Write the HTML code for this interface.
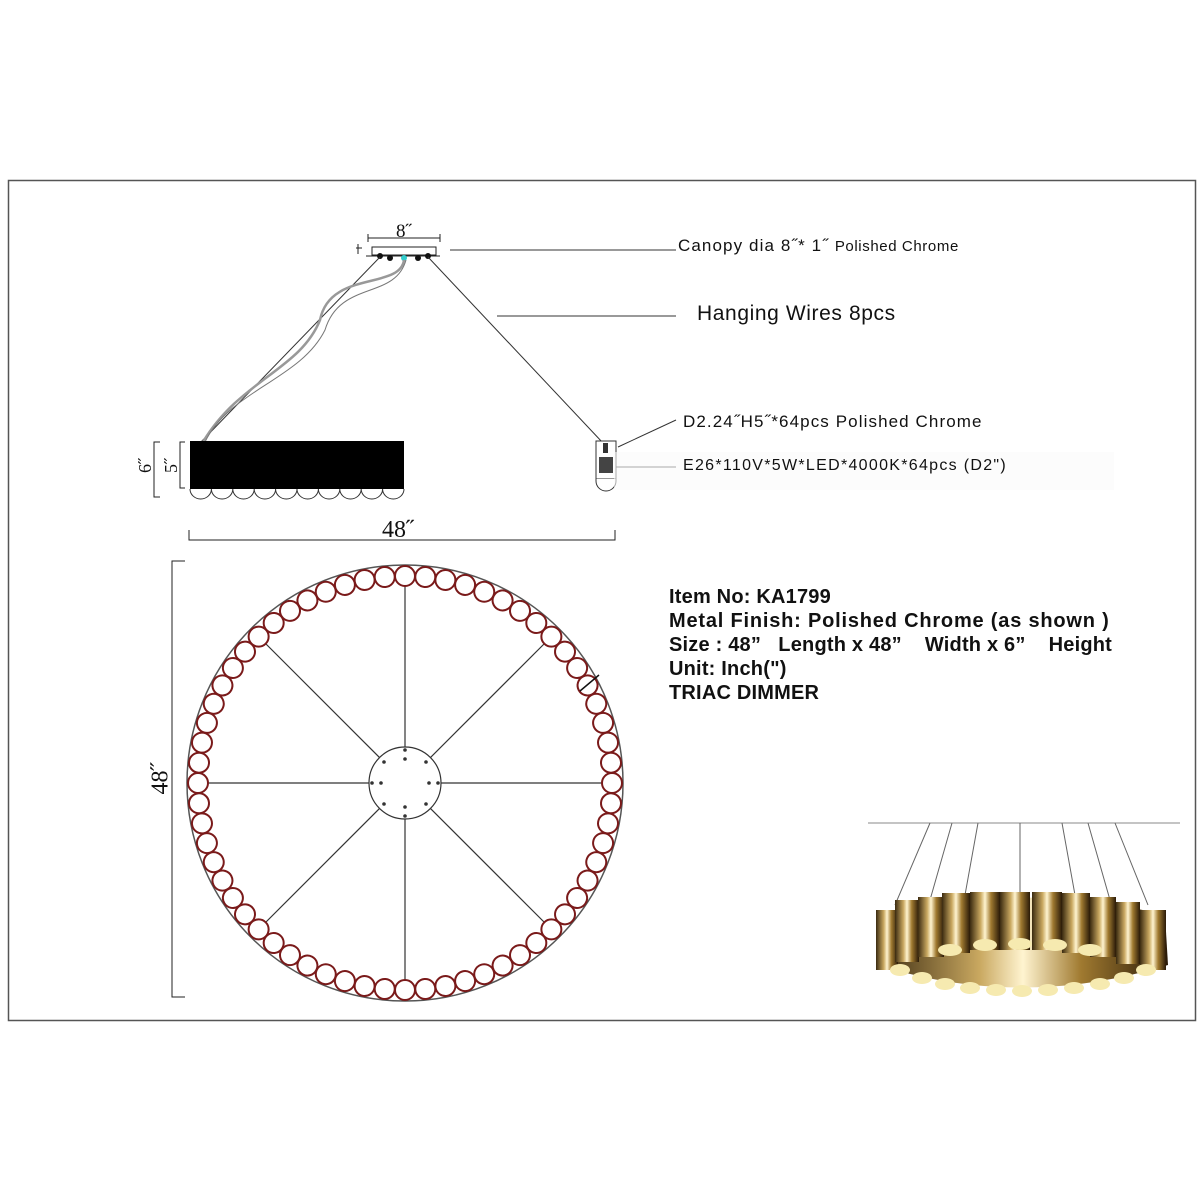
<!DOCTYPE html>
<html><head><meta charset="utf-8"><style>
html,body{margin:0;padding:0;background:#fff;}
body{width:1200px;height:1200px;position:relative;overflow:hidden;font-family:"Liberation Sans",sans-serif;}
.t{position:absolute;white-space:nowrap;color:#111;}
.b{font-weight:bold;font-size:20px;letter-spacing:0.2px;}
</style></head><body>
<svg width="1200" height="1200" style="position:absolute;left:0;top:0">
<defs>
<circle id="c" cx="405" cy="576" r="10" fill="#fff" stroke="#7a1a1a" stroke-width="2"/>
<linearGradient id="g" x1="0" x2="1">
<stop offset="0" stop-color="#3a2a10"/><stop offset="0.35" stop-color="#c9a860"/><stop offset="0.5" stop-color="#fff4d0"/><stop offset="0.7" stop-color="#a07a30"/><stop offset="1" stop-color="#2a1a08"/>
</linearGradient>
</defs>
<rect x="8.5" y="180.5" width="1187" height="840" fill="none" stroke="#555" stroke-width="1.5"/>
<path d="M368 238 H440 M368 234 V242 M440 234 V242" stroke="#222" fill="none"/>
<rect x="372" y="247" width="64" height="8" fill="#fff" stroke="#222"/>
<line x1="366" y1="256" x2="440" y2="256" stroke="#222"/>
<circle cx="380" cy="256" r="3" fill="#111"/><circle cx="390" cy="258" r="3" fill="#111"/><circle cx="418" cy="258" r="3" fill="#111"/><circle cx="428" cy="256" r="3" fill="#111"/>
<circle cx="404" cy="258" r="3" fill="#3cc"/>
<path d="M356 248 h6 M358 244 v10" stroke="#222"/>
<line x1="450" y1="250" x2="676" y2="250" stroke="#333"/>
<line x1="497" y1="316" x2="676" y2="316" stroke="#333"/>
<line x1="380" y1="257" x2="201" y2="442" stroke="#333"/>
<line x1="428" y1="257" x2="603" y2="443" stroke="#333"/>
<path d="M404 260 C400 290 330 270 320 320 C300 370 240 380 203 442" stroke="#999" stroke-width="2.5" fill="none"/>
<path d="M406 260 C395 300 340 280 325 330 C300 380 230 390 205 442" stroke="#777" stroke-width="1" fill="none"/>
<rect x="190" y="441" width="214" height="48" fill="#000"/>
<g fill="#fff" stroke="#333">
<path d="M190 489 a10.7 10 0 0 0 21.4 0 a10.7 10 0 0 0 21.4 0 a10.7 10 0 0 0 21.4 0 a10.7 10 0 0 0 21.4 0 a10.7 10 0 0 0 21.4 0 a10.7 10 0 0 0 21.4 0 a10.7 10 0 0 0 21.4 0 a10.7 10 0 0 0 21.4 0 a10.7 10 0 0 0 21.4 0 a10.7 10 0 0 0 21.4 0"/>
</g>
<path d="M160 442 H154 V497 H160 M185 442 H180 V488 H185" stroke="#222" fill="none"/>
<rect x="596" y="441" width="20" height="38" fill="#fff" stroke="#333"/>
<path d="M596 479 v2 a10 10 0 0 0 20 0 v-2" fill="#fff" stroke="#333"/>
<rect x="599" y="457" width="14" height="16" fill="#444"/>
<rect x="603" y="443" width="5" height="10" fill="#333"/>
<line x1="618" y1="447" x2="676" y2="420" stroke="#333"/>
<line x1="616" y1="467" x2="676" y2="467" stroke="#333"/>
<rect x="614" y="452" width="500" height="38" fill="#fafafa" opacity="0.6"/>
<path d="M189 530 V540 H615 V530" stroke="#222" fill="none"/>
<path d="M185 561 H172 V997 H185" stroke="#222" fill="none"/>
<circle cx="405" cy="783" r="218" fill="#fff" stroke="#555" stroke-width="1.5"/>
<g stroke="#333" stroke-width="1.2">
<line x1="405" y1="575" x2="405" y2="991"/>
<line x1="197" y1="783" x2="613" y2="783"/>
<line x1="258" y1="636" x2="552" y2="930"/>
<line x1="552" y1="636" x2="258" y2="930"/>
</g>
<g>
<use href="#c" transform="rotate(0 405 783)"/><use href="#c" transform="rotate(5.625 405 783)"/><use href="#c" transform="rotate(11.25 405 783)"/><use href="#c" transform="rotate(16.875 405 783)"/><use href="#c" transform="rotate(22.5 405 783)"/><use href="#c" transform="rotate(28.125 405 783)"/><use href="#c" transform="rotate(33.75 405 783)"/><use href="#c" transform="rotate(39.375 405 783)"/><use href="#c" transform="rotate(45 405 783)"/><use href="#c" transform="rotate(50.625 405 783)"/><use href="#c" transform="rotate(56.25 405 783)"/><use href="#c" transform="rotate(61.875 405 783)"/><use href="#c" transform="rotate(67.5 405 783)"/><use href="#c" transform="rotate(73.125 405 783)"/><use href="#c" transform="rotate(78.75 405 783)"/><use href="#c" transform="rotate(84.375 405 783)"/><use href="#c" transform="rotate(90 405 783)"/><use href="#c" transform="rotate(95.625 405 783)"/><use href="#c" transform="rotate(101.25 405 783)"/><use href="#c" transform="rotate(106.875 405 783)"/><use href="#c" transform="rotate(112.5 405 783)"/><use href="#c" transform="rotate(118.125 405 783)"/><use href="#c" transform="rotate(123.75 405 783)"/><use href="#c" transform="rotate(129.375 405 783)"/><use href="#c" transform="rotate(135 405 783)"/><use href="#c" transform="rotate(140.625 405 783)"/><use href="#c" transform="rotate(146.25 405 783)"/><use href="#c" transform="rotate(151.875 405 783)"/><use href="#c" transform="rotate(157.5 405 783)"/><use href="#c" transform="rotate(163.125 405 783)"/><use href="#c" transform="rotate(168.75 405 783)"/><use href="#c" transform="rotate(174.375 405 783)"/><use href="#c" transform="rotate(180 405 783)"/><use href="#c" transform="rotate(185.625 405 783)"/><use href="#c" transform="rotate(191.25 405 783)"/><use href="#c" transform="rotate(196.875 405 783)"/><use href="#c" transform="rotate(202.5 405 783)"/><use href="#c" transform="rotate(208.125 405 783)"/><use href="#c" transform="rotate(213.75 405 783)"/><use href="#c" transform="rotate(219.375 405 783)"/><use href="#c" transform="rotate(225 405 783)"/><use href="#c" transform="rotate(230.625 405 783)"/><use href="#c" transform="rotate(236.25 405 783)"/><use href="#c" transform="rotate(241.875 405 783)"/><use href="#c" transform="rotate(247.5 405 783)"/><use href="#c" transform="rotate(253.125 405 783)"/><use href="#c" transform="rotate(258.75 405 783)"/><use href="#c" transform="rotate(264.375 405 783)"/><use href="#c" transform="rotate(270 405 783)"/><use href="#c" transform="rotate(275.625 405 783)"/><use href="#c" transform="rotate(281.25 405 783)"/><use href="#c" transform="rotate(286.875 405 783)"/><use href="#c" transform="rotate(292.5 405 783)"/><use href="#c" transform="rotate(298.125 405 783)"/><use href="#c" transform="rotate(303.75 405 783)"/><use href="#c" transform="rotate(309.375 405 783)"/><use href="#c" transform="rotate(315 405 783)"/><use href="#c" transform="rotate(320.625 405 783)"/><use href="#c" transform="rotate(326.25 405 783)"/><use href="#c" transform="rotate(331.875 405 783)"/><use href="#c" transform="rotate(337.5 405 783)"/><use href="#c" transform="rotate(343.125 405 783)"/><use href="#c" transform="rotate(348.75 405 783)"/><use href="#c" transform="rotate(354.375 405 783)"/>
</g>
<circle cx="405" cy="783" r="36" fill="#fff" stroke="#333" stroke-width="1.2"/>
<g fill="#333">
<circle cx="405" cy="750" r="1.8"/><circle cx="405" cy="759" r="1.8"/><circle cx="405" cy="807" r="1.8"/><circle cx="405" cy="816" r="1.8"/>
<circle cx="372" cy="783" r="1.8"/><circle cx="381" cy="783" r="1.8"/><circle cx="429" cy="783" r="1.8"/><circle cx="438" cy="783" r="1.8"/>
<circle cx="384" cy="762" r="1.8"/><circle cx="426" cy="762" r="1.8"/><circle cx="384" cy="804" r="1.8"/><circle cx="426" cy="804" r="1.8"/>
</g>
<line x1="580" y1="691" x2="599" y2="675" stroke="#111" stroke-width="1.5"/>
<line x1="868" y1="823" x2="1180" y2="823" stroke="#888"/>
<g stroke="#666" stroke-width="1" fill="none">
<path d="M930 823 L895 905 M952 823 L930 900 M978 823 L965 895 M1020 823 L1020 895 M1062 823 L1075 895 M1088 823 L1110 900 M1115 823 L1148 905"/>
</g>
<path d="M880 915 Q1020 880 1165 915 L1168 965 Q1020 1010 878 965 Z" fill="url(#g)"/>
<g fill="url(#g)">
<rect x="876" y="910" width="22" height="60"/><rect x="895" y="900" width="24" height="62"/><rect x="918" y="897" width="26" height="60"/><rect x="942" y="893" width="28" height="60"/><rect x="970" y="892" width="30" height="58"/><rect x="1000" y="892" width="30" height="58"/><rect x="1032" y="892" width="30" height="58"/><rect x="1062" y="893" width="28" height="60"/><rect x="1090" y="897" width="26" height="60"/><rect x="1116" y="902" width="24" height="62"/><rect x="1140" y="910" width="26" height="60"/>
</g>
<g fill="#f6eab0">
<ellipse cx="900" cy="970" rx="10" ry="6"/><ellipse cx="922" cy="978" rx="10" ry="6"/><ellipse cx="945" cy="984" rx="10" ry="6"/><ellipse cx="970" cy="988" rx="10" ry="6"/><ellipse cx="996" cy="990" rx="10" ry="6"/><ellipse cx="1022" cy="991" rx="10" ry="6"/><ellipse cx="1048" cy="990" rx="10" ry="6"/><ellipse cx="1074" cy="988" rx="10" ry="6"/><ellipse cx="1100" cy="984" rx="10" ry="6"/><ellipse cx="1124" cy="978" rx="10" ry="6"/><ellipse cx="1146" cy="970" rx="10" ry="6"/>
<ellipse cx="950" cy="950" rx="12" ry="6"/><ellipse cx="985" cy="945" rx="12" ry="6"/><ellipse cx="1020" cy="944" rx="12" ry="6"/><ellipse cx="1055" cy="945" rx="12" ry="6"/><ellipse cx="1090" cy="950" rx="12" ry="6"/>
</g>
</svg>
<div class="t" style="left:396px;top:221px;font-family:'Liberation Serif',serif;font-size:19px;">8˝</div>
<div class="t" style="left:138px;top:455px;font-family:'Liberation Serif',serif;font-size:18px;transform:rotate(-90deg);">6˝</div>
<div class="t" style="left:164px;top:455px;font-family:'Liberation Serif',serif;font-size:18px;transform:rotate(-90deg);">5˝</div>
<div class="t" style="left:382px;top:517px;font-family:'Liberation Serif',serif;font-size:24px;">48˝</div>
<div class="t" style="left:145px;top:765px;font-family:'Liberation Serif',serif;font-size:24px;transform:rotate(-90deg);">48˝</div>
<div class="t" style="left:678px;top:236px;font-size:17px;letter-spacing:1.1px;">Canopy dia 8˝* 1˝ <span style="font-size:15px;letter-spacing:0.6px">Polished Chrome</span></div>
<div class="t" style="left:697px;top:302px;font-size:21px;letter-spacing:0.6px;">Hanging Wires 8pcs</div>
<div class="t" style="left:683px;top:412px;font-size:17px;letter-spacing:1.1px;">D2.24˝H5˝*64pcs Polished Chrome</div>
<div class="t" style="left:683px;top:457px;font-size:16px;letter-spacing:1.3px;">E26*110V*5W*LED*4000K*64pcs (D2")</div>
<div class="t b" style="left:669px;top:586px;">Item No: KA1799</div>
<div class="t b" style="left:669px;top:610px;letter-spacing:0.8px;">Metal Finish: Polished Chrome (as shown )</div>
<div class="t b" style="left:669px;top:634px;">Size : 48”&nbsp;&nbsp; Length x 48”&nbsp;&nbsp;&nbsp; Width x 6”&nbsp;&nbsp;&nbsp; Height</div>
<div class="t b" style="left:669px;top:658px;">Unit: Inch(")</div>
<div class="t b" style="left:669px;top:682px;">TRIAC DIMMER</div>
</body></html>
